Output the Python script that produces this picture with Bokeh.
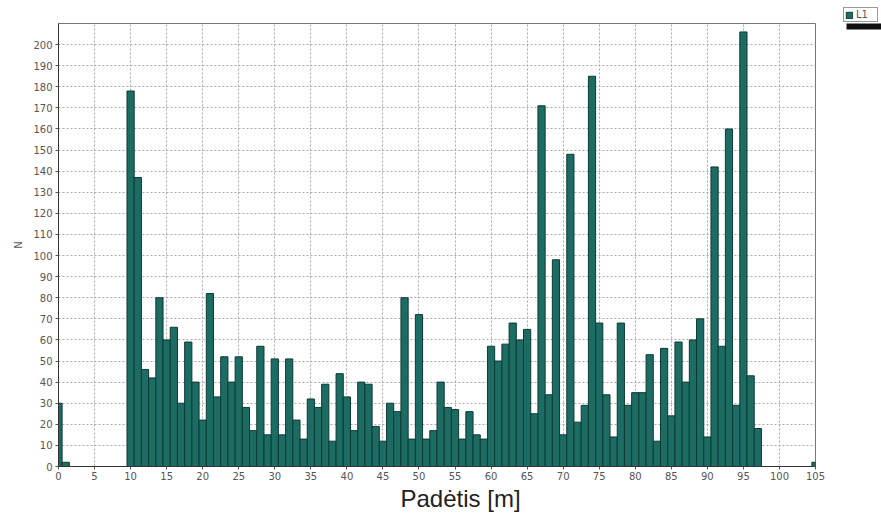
from bokeh.plotting import figure
from bokeh.layouts import row
from bokeh.models import (ColumnDataSource, Range1d, FixedTicker, Legend,
                          LegendItem, Title)
from bokeh.embed import file_html
from bokeh.resources import INLINE

# Counts per position bin (metres 0..105)
counts = [
    30, 2, 0, 0, 0, 0, 0, 0, 0, 0,          # 0-9
    178, 137, 46, 42, 80, 60, 66, 30, 59, 40,  # 10-19
    22, 82, 33, 52, 40, 52, 28, 17, 57, 15,    # 20-29
    51, 15, 51, 22, 13, 32, 28, 39, 12, 44,    # 30-39
    33, 17, 40, 39, 19, 12, 30, 26, 80, 13,    # 40-49
    72, 13, 17, 40, 28, 27, 13, 26, 15, 13,    # 50-59
    57, 50, 58, 68, 60, 65, 25, 171, 34, 98,   # 60-69
    15, 148, 21, 29, 185, 68, 34, 14, 68, 29,  # 70-79
    35, 35, 53, 12, 56, 24, 59, 40, 60, 70,    # 80-89
    14, 142, 57, 160, 29, 206, 43, 18, 0, 0,   # 90-99
    0, 0, 0, 0, 0, 2,                          # 100-105
]
positions = list(range(len(counts)))

x_ticks = [0, 5, 10, 15, 20, 25, 30, 35, 40, 45, 50, 55, 60, 65, 70, 75,
           80, 85, 90, 95, 100, 105]
y_ticks = [0, 10, 20, 30, 40, 50, 60, 70, 80, 90, 100, 110, 120, 130, 140,
           150, 160, 170, 180, 190, 200]

series_name = "L1"
x_title = "Padėtis [m]"
y_title = "N"

BAR_FILL = "#1c6c64"
BAR_LINE = "#0c3a35"

src = ColumnDataSource(dict(x=positions, top=counts))

p = figure(width=843, height=524, output_backend="svg", toolbar_location=None,
           x_range=Range1d(0, 105), y_range=Range1d(0, 210),
           min_border_left=58, min_border_right=28,
           min_border_top=23, min_border_bottom=58,
           background_fill_color="white", border_fill_color="white")

p.vbar(x="x", top="top", bottom=0, width=1.0, source=src,
       fill_color=BAR_FILL, line_color=BAR_LINE, line_width=1)

# axes
for ax in (p.xaxis[0], p.yaxis[0]):
    ax.axis_line_color = "#333333"
    ax.axis_line_width = 1
    ax.major_tick_line_color = "#555555"
    ax.major_tick_out = 3
    ax.major_tick_in = 0
    ax.minor_tick_line_color = None
    ax.major_label_text_font = "DejaVu Sans"
    ax.major_label_text_font_size = "10px"
    ax.major_label_text_color = "#555555"
    ax.major_label_standoff = 3
p.xaxis.major_label_standoff = 2

p.xaxis.ticker = FixedTicker(ticks=x_ticks)
p.yaxis.ticker = FixedTicker(ticks=y_ticks)

p.yaxis.axis_label = y_title
p.yaxis.axis_label_text_font = "DejaVu Sans"
p.yaxis.axis_label_text_font_size = "10px"
p.yaxis.axis_label_text_font_style = "normal"
p.yaxis.axis_label_text_color = "#555555"
p.yaxis.axis_label_standoff = 6

# x-axis caption, set a little right of the frame centre
p.add_layout(Title(text=x_title, align="left", offset=342, standoff=0,
                   text_font="Liberation Sans", text_font_size="24px",
                   text_font_style="normal", text_color="#222222"), "below")

# dashed grid
for g in (p.xgrid[0], p.ygrid[0]):
    g.grid_line_color = "#a8a8a8"
    g.grid_line_dash = "2 2"
    g.grid_line_width = 1

p.outline_line_color = "#777777"
p.outline_line_width = 1

# narrow side strip holding the series legend; its frame covers the whole
# strip, so the y range is one unit per pixel from the bottom edge
side = figure(width=38, height=524, output_backend="svg", toolbar_location=None,
              x_range=Range1d(0, 38), y_range=Range1d(0, 524),
              x_axis_type=None, y_axis_type=None, min_border=0,
              outline_line_color=None, background_fill_color="white",
              border_fill_color="white")
side.grid.visible = False
side.frame_align = False

# drop shadow under the legend box
side.quad(left=[3], right=[38], bottom=[495], top=[501],
          fill_color="#111111", line_color=None)

# legend key: same bar styling, no visible extent of its own
key = side.vbar(x=[float("nan")], top=[float("nan")], width=1,
                fill_color=BAR_FILL, line_color=BAR_LINE)
legend = Legend(items=[LegendItem(label=series_name, renderers=[key])],
                location=(0, 502), orientation="vertical",
                label_text_font="DejaVu Sans", label_text_font_size="10px",
                label_text_color="#555555", label_standoff=3,
                glyph_width=8, glyph_height=8, label_height=8,
                padding=1, spacing=0, margin=0,
                border_line_color="#333333", border_line_width=1,
                background_fill_color="white", background_fill_alpha=1)
side.add_layout(legend, "center")

layout = row(p, side, spacing=0)

open("out.html", "w").write(file_html(layout, INLINE))
